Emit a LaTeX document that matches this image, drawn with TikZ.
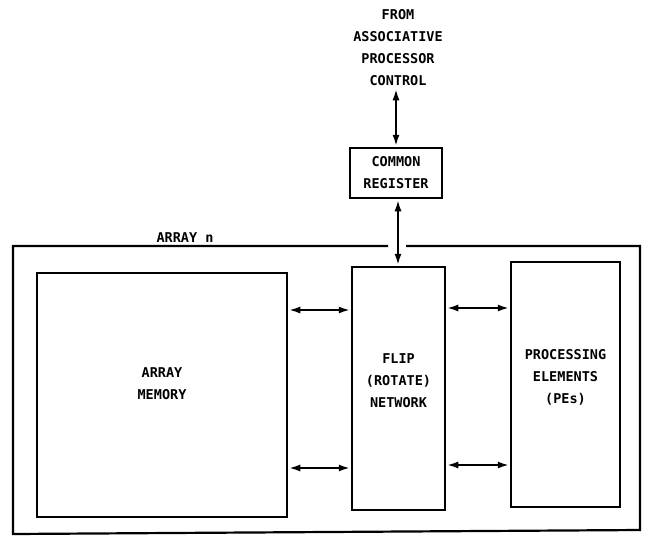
\documentclass[tikz,border=0pt]{standalone}
\usepackage{fontspec}
\setmonofont{DejaVu Sans Mono}
\usetikzlibrary{arrows.meta}
\begin{document}
\begin{tikzpicture}[x=1pt,y=-1pt,
  lbl/.style={font=\ttfamily\bfseries\fontsize{13.5}{22}\selectfont,align=center,inner sep=0pt},
  blk/.style={draw,line width=2.5pt},
  conn/.style={line width=2.5pt,{Latex[length=12pt,width=7pt]}-{Latex[length=12pt,width=7pt]}}]
\useasboundingbox (0,0) rectangle (645,539);
% outer array box with gap
\coordinate (otl) at (13,250);
\coordinate (otr) at (640,243);
\coordinate (obr) at (640,530);
\coordinate (obl) at (13,534);
\coordinate (g1) at (388,246);
\coordinate (g2) at (406,246);
\draw[line width=2.2pt] (g1) -- (otl|-g1) -- (obl) -- (obr) -- (otr|-g2) -- (g2);
\node[lbl] (arr) at (185,238) {ARRAY n};
% blocks
\node[blk,minimum width=250pt,minimum height=244pt] (mem) at (162,395) {};
\node[lbl] at (mem.center) [yshift=11pt] {ARRAY\\MEMORY};
\node[blk,minimum width=93pt,minimum height=243pt] (flip) at (398.5,388.5) {};
\node[lbl] at (flip.center) [yshift=8pt] {FLIP\\(ROTATE)\\NETWORK};
\node[blk,minimum width=109pt,minimum height=245pt] (pe) at (565.5,384.5) {};
\node[lbl] at (pe.center) [yshift=7pt] {PROCESSING\\ELEMENTS\\(PEs)};
\node[blk,minimum width=92pt,minimum height=50pt,lbl,draw,line width=2.5pt] (reg) at (396,173) {COMMON\\REGISTER};
\node[lbl] (ctl) at (398,48) {FROM\\ASSOCIATIVE\\PROCESSOR\\CONTROL};
% connectors
\draw[conn] (ctl.south -| reg.north) ++(0,2) -- (reg.north);
\draw[conn] (reg.south) ++(2,0) coordinate (rs) -- (rs |- flip.north);
\draw[conn] (mem.east |- 0,310) -- (flip.west |- 0,310);
\draw[conn] (mem.east |- 0,468) -- (flip.west |- 0,468);
\draw[conn] (flip.east |- 0,308) -- (pe.west |- 0,308);
\draw[conn] (flip.east |- 0,465) -- (pe.west |- 0,465);
\end{tikzpicture}
\end{document}
